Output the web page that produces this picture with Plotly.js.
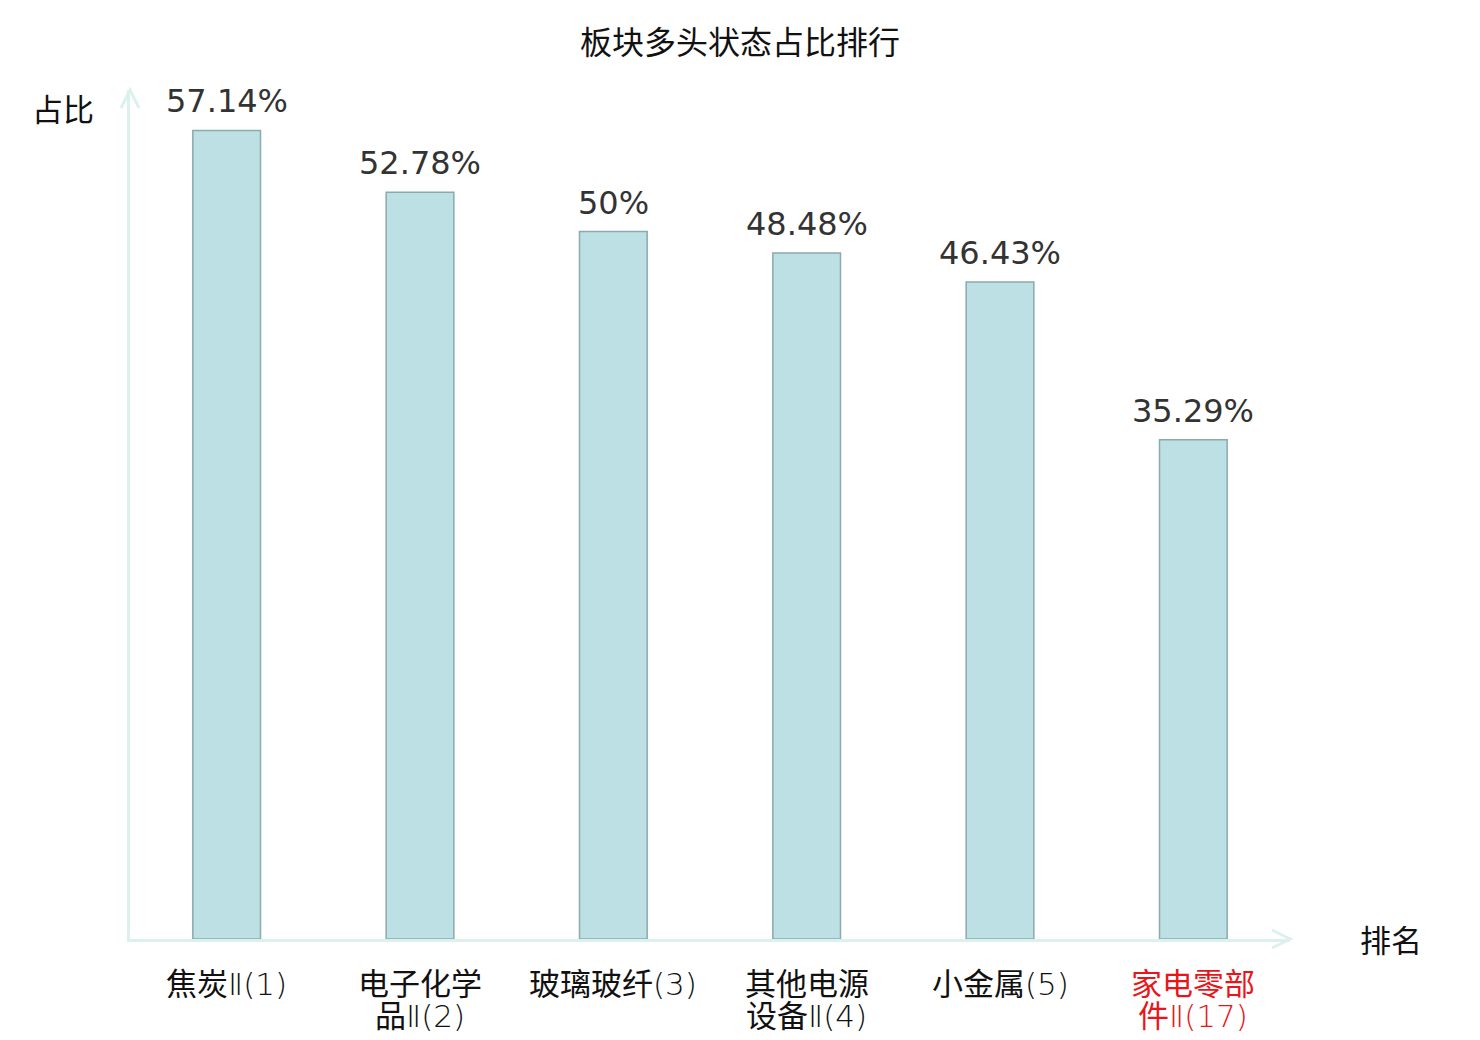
<!DOCTYPE html>
<html>
<head>
<meta charset="utf-8">
<script src="https://cdn.plot.ly/plotly-3.0.1.min.js"></script>
<style>
  html, body { margin: 0; padding: 0; background: #fff; }
  #plot { width: 1480px; height: 1040px; }
</style>
</head>
<body>
<div id="plot"></div>
<script>
const sectors = ["焦炭Ⅱ(1)", "电子化学<br>品Ⅱ(2)", "玻璃玻纤(3)", "其他电源<br>设备Ⅱ(4)", "小金属(5)", "家电零部<br>件Ⅱ(17)"];
const ratios = [57.14, 52.78, 50, 48.48, 46.43, 35.29];
const highlight = [false, false, false, false, false, true];

const FONT = "DejaVu Sans, Noto Sans CJK SC, sans-serif";
const axisColor = "#dcf1ee";

// the digits / brackets in the category names are drawn thin
const thin = s => s.replace(/([Ⅱ()0-9]+)/g,
    '<span style="font-family:\'DejaVu Sans\';font-weight:200">$1</span>');

const bars = {
    type: "bar",
    x: sectors.map((s, i) => i),
    y: ratios,
    width: 0.35,
    marker: { color: "#bce0e3", line: { color: "#8aaaad", width: 1.5 } },
    hoverinfo: "skip"
};

const notes = [];

// value labels above each bar
ratios.forEach((v, i) => notes.push({
    x: i, y: v, xref: "x", yref: "y",
    text: v + "%",
    showarrow: false,
    xanchor: "center", yanchor: "middle",
    yshift: 29,
    font: { family: FONT, size: 32, color: "#333333" }
}));

// category labels, one annotation per line so the line spacing stays tight
sectors.forEach((s, i) => {
    s.split("<br>").forEach((line, k) => notes.push({
        x: i, y: 0, xref: "x", yref: "y",
        text: thin(line),
        showarrow: false,
        xanchor: "center", yanchor: "middle",
        height: 31,
        yshift: -44 - 32 * k,
        font: { family: FONT, size: 31, color: highlight[i] ? "#e8161a" : "#111111" }
    }));
});

// axis titles
notes.push({
    x: 0, y: 1, xref: "paper", yref: "paper",
    xanchor: "center", yanchor: "middle",
    xshift: -67, yshift: -20,
    text: "占比", showarrow: false,
    font: { family: FONT, size: 31, color: "#111111" }
});
notes.push({
    x: 1, y: 0, xref: "paper", yref: "paper",
    xanchor: "center", yanchor: "middle",
    xshift: 101, yshift: -2,
    text: "排名", showarrow: false,
    font: { family: FONT, size: 31, color: "#111111" }
});

const arrows = [
    {   // x axis arrow head
        type: "path", xref: "paper", yref: "paper",
        xsizemode: "pixel", ysizemode: "pixel", xanchor: 1, yanchor: 0,
        path: "M -18,9 L 0,0 L -18,-9",
        line: { color: axisColor, width: 3 }
    },
    {   // y axis arrow head
        type: "path", xref: "paper", yref: "paper",
        xsizemode: "pixel", ysizemode: "pixel", xanchor: 0, yanchor: 1,
        path: "M -9,-18 L 0,0 L 9,-18",
        line: { color: axisColor, width: 3 }
    }
];

Plotly.newPlot("plot", [bars], {
    width: 1480,
    height: 1040,
    margin: { l: 130, r: 190, t: 90, b: 101 },
    paper_bgcolor: "#ffffff",
    plot_bgcolor: "#ffffff",
    showlegend: false,
    title: {
        text: "板块多头状态占比排行",
        x: 0.5, xanchor: "center",
        y: 0.959, yanchor: "middle",
        font: { family: FONT, size: 32, color: "#111111" }
    },
    xaxis: {
        range: [-0.5, 5.5],
        showgrid: false,
        zeroline: false,
        showline: true,
        linecolor: axisColor,
        linewidth: 3,
        showticklabels: false,
        ticks: ""
    },
    yaxis: {
        range: [0, 60],
        showgrid: false,
        zeroline: false,
        showline: true,
        linecolor: axisColor,
        linewidth: 3,
        showticklabels: false,
        ticks: ""
    },
    annotations: notes,
    shapes: arrows
}, { displayModeBar: false });
</script>
</body>
</html>
